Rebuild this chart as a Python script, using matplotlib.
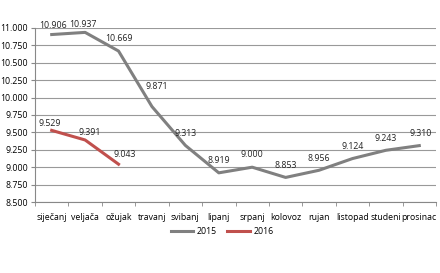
import matplotlib.pyplot as plt

months = ['siječanj', 'veljača', 'ožujak', 'travanj', 'svibanj', 'lipanj',
          'srpanj', 'kolovoz', 'rujan', 'listopad', 'studeni', 'prosinac']
y2015 = [10906, 10937, 10669, 9871, 9313, 8919, 9000, 8853, 8956, 9124, 9243, 9310]
y2016 = [9529, 9391, 9043]
yticks = [8500, 8750, 9000, 9250, 9500, 9750, 10000, 10250, 10500, 10750, 11000]

# label offsets in pixels (label centre relative to the point)
off2015 = [(1, 9), (-2, 8), (0, 13), (5, 20), (0, 12), (0, 12),
           (0, 13), (0, 12), (0, 12), (0, 12), (0, 12), (1, 12)]
off2016 = [(-2, 7), (5, 7), (6, 10)]


def fmt(v):
    return f'{v:,}'.replace(',', '.')


plt.rcParams['font.family'] = ['Open Sans', 'DejaVu Sans']
fig = plt.figure(figsize=(4.4, 2.73), dpi=100)
ax = fig.add_axes([35 / 440, 1 - 202 / 273, 401 / 440, 174 / 273])

x15 = list(range(len(y2015)))
x16 = list(range(len(y2016)))
ax.plot(x15, y2015, color='#808080', lw=2.2, label='2015')
ax.plot(x16, y2016, color='#c0504d', lw=2.2, label='2016')

for x, v, o in zip(x15, y2015, off2015):
    ax.annotate(fmt(v), (x, v), xytext=o, textcoords='offset pixels',
                fontsize=6.3, ha='center', va='center', color='#222222')
for x, v, o in zip(x16, y2016, off2016):
    ax.annotate(fmt(v), (x, v), xytext=o, textcoords='offset pixels',
                fontsize=6.3, ha='center', va='center', color='#222222')

ax.set_xlim(-0.5, 11.5)
ax.set_ylim(8500, 11000)
ax.set_yticks(yticks)
ax.set_yticklabels([fmt(v) for v in yticks], fontsize=6.3)
ax.set_xticks(x15)
ax.set_xticklabels(months, fontsize=6.3)
ax.set_xticks([i - 0.5 for i in range(13)], minor=True)
ax.tick_params(axis='x', which='major', length=0, pad=8)
ax.tick_params(axis='x', which='minor', length=3, color='#888888', direction='out')
ax.tick_params(axis='y', length=3, color='#888888', pad=2)
ax.grid(axis='y', color='#999999', lw=0.8)
ax.set_axisbelow(True)
for s in ['top', 'right']:
    ax.spines[s].set_visible(False)
for s in ['left', 'bottom']:
    ax.spines[s].set_color('#888888')
    ax.spines[s].set_linewidth(0.8)

fig.legend(loc='center', bbox_to_anchor=(0.505, 1 - 232 / 273), ncol=2, frameon=False,
           fontsize=6.3, handlelength=2.6, columnspacing=1.2, handletextpad=0.4)

fig.savefig('out.png', dpi=100)
